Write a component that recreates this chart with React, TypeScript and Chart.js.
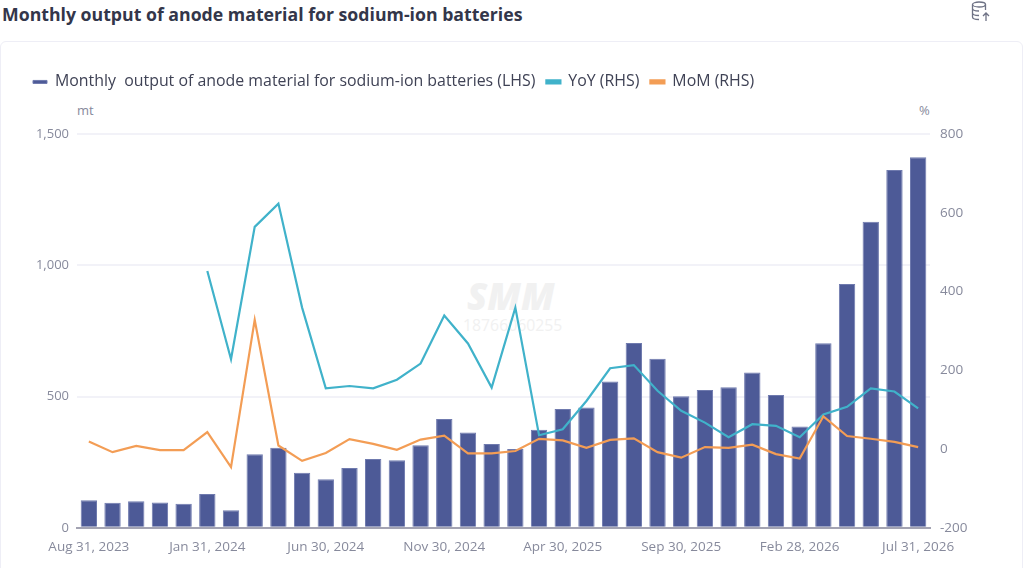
import { useEffect, useRef } from "react";
import { Chart, registerables } from "chart.js";

Chart.register(...registerables);

const FONT = '"Open Sans", "Noto Sans", sans-serif';

const categories = [
  "Aug 31, 2023", "Sep 30, 2023", "Oct 31, 2023", "Nov 30, 2023", "Dec 31, 2023", "Jan 31, 2024",
  "Feb 29, 2024", "Mar 31, 2024", "Apr 30, 2024", "May 31, 2024", "Jun 30, 2024", "Jul 31, 2024",
  "Aug 31, 2024", "Sep 30, 2024", "Oct 31, 2024", "Nov 30, 2024", "Dec 31, 2024", "Jan 31, 2025",
  "Feb 28, 2025", "Mar 31, 2025", "Apr 30, 2025", "May 31, 2025", "Jun 30, 2025", "Jul 31, 2025",
  "Aug 31, 2025", "Sep 30, 2025", "Oct 31, 2025", "Nov 30, 2025", "Dec 31, 2025", "Jan 31, 2026",
  "Feb 28, 2026", "Mar 31, 2026", "Apr 30, 2026", "May 31, 2026", "Jun 30, 2026", "Jul 31, 2026",
];

const output = [
  105, 95, 101, 96, 92, 129, 67, 280, 305, 210, 185, 228,
  262, 257, 314, 414, 363, 319, 300, 373, 452, 458, 557, 704,
  644, 501, 525, 535, 591, 506, 386, 703, 928, 1165, 1363, 1411,
];

const yoy = [
  null, null, null, null, null, 452, 228, 564, 623, 359, 154, 160,
  154, 176, 217, 339, 268, 156, 359, 35, 50, 122, 205, 213,
  148, 97, 67, 30, 63, 59, 30, 88, 107, 154, 146, 103,
];

const mom = [
  19, -8, 8, -3, -3, 43, -46, 328, 9, -30, -10, 25,
  13, -2, 24, 34, -11, -11, -5, 26, 22, 3, 23, 27,
  -8, -22, 5, 3, 11, -13, -24, 83, 33, 26, 18, 5,
];

const leftTicks = [0, 500, 1000, 1500];
const rightTicks = [-200, 0, 200, 400, 600, 800];

const label = { position: "absolute", fontFamily: FONT, whiteSpace: "nowrap" } as const;

// leaves room under the legend for the mt and % unit labels
const legendGap = {
  id: "legendGap",
  beforeInit(chart: any) {
    const fit = chart.legend.fit;
    chart.legend.fit = function () {
      fit.call(this);
      this.height += 34;
    };
  },
};

export default function App() {
  const canvasRef = useRef<HTMLCanvasElement>(null);

  useEffect(() => {
    if (!canvasRef.current) return;
    const chart = new Chart(canvasRef.current, {
      plugins: [legendGap],
      data: {
        labels: categories,
        datasets: [
          {
            type: "line",
            label: "YoY (RHS)",
            data: yoy,
            yAxisID: "right",
            borderColor: "#40b2ca",
            backgroundColor: "#40b2ca",
            borderWidth: 2.2,
            pointRadius: 0,
            tension: 0,
            order: 1,
          },
          {
            type: "line",
            label: "MoM (RHS)",
            data: mom,
            yAxisID: "right",
            borderColor: "#f39d55",
            backgroundColor: "#f39d55",
            borderWidth: 2.2,
            pointRadius: 0,
            tension: 0,
            order: 0,
          },
          {
            type: "bar",
            label: "Monthly  output of anode material for sodium-ion batteries (LHS)",
            data: output,
            yAxisID: "left",
            backgroundColor: "#4d5a97",
            borderColor: "#6f7aae",
            borderWidth: 1,
            categoryPercentage: 1,
            barPercentage: 0.69,
            order: 2,
          },
        ],
      },
      options: {
        animation: false,
        responsive: false,
        plugins: {
          tooltip: { enabled: false },
          legend: {
            position: "top",
            align: "start",
            labels: {
              boxWidth: 14,
              boxHeight: 3,
              color: "#3f4255",
              font: { family: FONT, size: 15.9 },
              padding: 11,
              sort: (a, b) => (a.datasetIndex === 2 ? -1 : b.datasetIndex === 2 ? 1 : a.datasetIndex! - b.datasetIndex!),
            },
          },
        },
        scales: {
          x: {
            offset: true,
            grid: { display: false, drawTicks: false },
            border: { color: "#a3a3b2", width: 2 },
            ticks: {
              color: "#878a9c",
              font: { family: FONT, size: 13.5 },
              autoSkip: false,
              maxRotation: 0,
              padding: 11,
              callback: (_v, i) => (i % 5 === 0 ? categories[i] : ""),
            },
          },
          left: {
            position: "left",
            min: 0,
            max: 1500,
            afterBuildTicks: (axis) => {
              axis.ticks = leftTicks.map((value) => ({ value }));
            },
            afterFit: (axis) => {
              axis.width = 55;
            },
            grid: { color: "#f2f2f8", lineWidth: 2, drawTicks: false },
            border: { display: false },
            ticks: {
              color: "#878a9c",
              font: { family: FONT, size: 13 },
              padding: 8,
            },
          },
          right: {
            position: "right",
            min: -200,
            max: 800,
            afterBuildTicks: (axis) => {
              axis.ticks = rightTicks.map((value) => ({ value }));
            },
            afterFit: (axis) => {
              axis.width = 74;
            },
            grid: { display: false },
            border: { display: false },
            ticks: {
              color: "#878a9c",
              font: { family: FONT, size: 13.5 },
              padding: 2,
            },
          },
        },
      },
    });
    return () => chart.destroy();
  }, []);

  return (
    <div style={{ position: "fixed", left: 0, top: 0, width: 1024, height: 568, overflow: "hidden", background: "#fff" }}>
      <div style={{ ...label, left: 2, top: 2, fontSize: 17.7, fontWeight: 700, color: "#33364a" }}>
        Monthly output of anode material for sodium-ion batteries
      </div>
      <svg style={{ position: "absolute", left: 970, top: 0 }} width="22" height="24" viewBox="0 0 22 24" fill="none" stroke="#6e7285" strokeWidth="1.3">
        <ellipse cx="9" cy="4.5" rx="6.5" ry="2.5" />
        <path d="M2.5 4.5V17c0 1.4 2.9 2.5 6.5 2.5M15.5 4.5V10M2.5 8.5c0 1.4 2.9 2.5 6.5 2.5M2.5 13c0 1.4 2.9 2.5 6.5 2.5" />
        <path d="M16 21v-8M13 16l3-3 3 3" />
      </svg>
      <div style={{ position: "absolute", left: 0, top: 41, width: 1023, height: 560, border: "1px solid #eeeef6", borderRadius: 6, boxSizing: "border-box" }} />
      <div style={{ ...label, left: 467, top: 270, fontSize: 37, fontWeight: 800, fontStyle: "italic", color: "#f1f1f1" }}>SMM</div>
      <div style={{ ...label, left: 463, top: 314, fontSize: 15.8, color: "#f1f1f1" }}>18766060255</div>
      <div style={{ ...label, left: 77, top: 101, fontSize: 13, color: "#878a9c" }}>mt</div>
      <div style={{ ...label, left: 919, top: 101, fontSize: 13, color: "#878a9c" }}>%</div>
      <canvas ref={canvasRef} width={982} height={503} style={{ position: "absolute", left: 22, top: 63 }} />
    </div>
  );
}
